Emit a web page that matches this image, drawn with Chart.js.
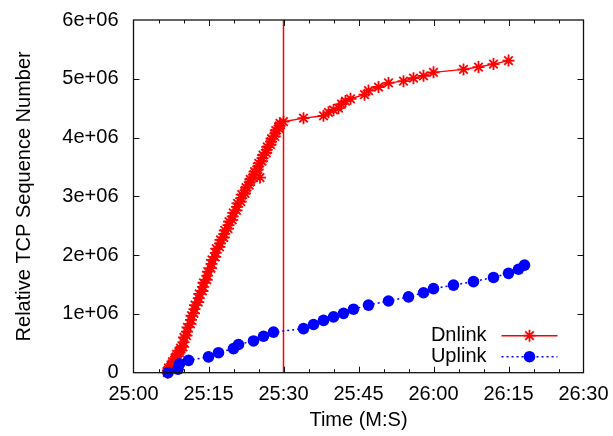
<!DOCTYPE html>
<html>
<head>
<meta charset="utf-8">
<script src="https://cdn.jsdelivr.net/npm/chart.js@4.4.1/dist/chart.umd.min.js"></script>
<style>
html,body{margin:0;padding:0;background:#fff;}
#c{display:block;}
</style>
</head>
<body>
<canvas id="c" width="613" height="436"></canvas>
<script>
// Time in seconds after 25:00, values in millions
const dnTime = [
  6.8,6.9,7.0, 7.6,7.7,7.8, 8.4,8.5,8.6, 9.2,9.3,9.4,
  9.9,10.0,10.1, 10.6,10.7,10.8, 11.4,11.5,11.6,
  12.1,12.2,12.3, 12.95,13.05,13.15, 13.8,13.9,14.0, 14.65,14.75,14.85,
  15.5,15.6,15.7, 16.35,16.45,16.55,
  17.2,17.3,17.4, 18.05,18.15,18.25, 18.9,19.0,19.1, 19.75,19.85,19.95,
  20.6,20.7,20.8, 21.45,21.55,21.65,
  22.3,22.4,22.5, 23.15,23.25,23.35, 24.0,24.1,24.2, 24.85,24.95,25.05, 25.3,
  25.7,25.8,25.9, 26.55,26.65,26.75, 27.4,27.5,27.6, 28.25,28.35,28.45,
  29.1,29.2,29.3, 30.0,
  34,38,39,40,41,41.6,42.4,43.4,46.2,47,49,51,54,56,58,60,66,69,72,75];
const dnValue = [
  0.00,0.04,0.08, 0.11,0.15,0.19, 0.23,0.27,0.31, 0.34,0.38,0.42,
  0.44,0.52,0.60, 0.63,0.70,0.77, 0.83,0.90,0.97,
  1.01,1.08,1.15, 1.20,1.27,1.34, 1.39,1.46,1.53, 1.58,1.65,1.72,
  1.78,1.85,1.92, 1.97,2.04,2.11,
  2.14,2.20,2.26, 2.30,2.36,2.42, 2.45,2.51,2.57, 2.60,2.66,2.72,
  2.76,2.82,2.88, 2.91,2.97,3.03,
  3.05,3.10,3.15, 3.19,3.24,3.29, 3.32,3.37,3.42, 3.46,3.51,3.56, 3.32,
  3.60,3.65,3.70, 3.74,3.79,3.84, 3.88,3.93,3.98, 4.02,4.07,4.12,
  4.16,4.20,4.24, 4.27,
  4.33,4.37,4.43,4.47,4.50,4.57,4.62,4.66,4.73,4.80,4.86,4.93,4.96,5.01,5.05,5.11,5.16,5.20,5.25,5.31];
const upTime = [6.9,8.9,9.2,11,15,17,20,21,24,26,28,34,36,38,40,42,44,47,51,55,58,60,64,68,72,75,77,78.2];
const upValue = [0,0.06,0.15,0.21,0.27,0.34,0.41,0.48,0.54,0.62,0.69,0.75,0.82,0.89,0.95,1.01,1.08,1.15,1.22,1.29,1.36,1.43,1.49,1.55,1.62,1.69,1.76,1.83];
const markerTime = [30, 30];
const markerValue = [0, 6];
const xTicks = [0,15,30,45,60,75,90];
const xTickLabels = ['25:00','25:15','25:30','25:45','26:00','26:15','26:30'];
const yTickLabels = ['0','1e+06','2e+06','3e+06','4e+06','5e+06','6e+06'];
const seriesNames = ['Dnlink','Uplink'];

const M = 1e6;
const toPts = (t, v) => t.map((x, i) => ({x: x, y: v[i] * M}));

const FONT = '"Liberation Sans", Arial, Helvetica, sans-serif';

const frameTicks = {
  id: 'frameTicks',
  afterDraw(chart) {
    const {ctx, chartArea: a, scales: {x, y}} = chart;
    ctx.save();
    ctx.strokeStyle = '#111';
    ctx.lineWidth = 1.3;
    ctx.strokeRect(a.left, a.top, a.right - a.left, a.bottom - a.top);
    ctx.lineWidth = 1;
    ctx.beginPath();
    for (let s = 5; s < 90; s += 5) {
      const px = Math.round(x.getPixelForValue(s)) + 0.5;
      const len = (s % 15 === 0) ? 6 : 3.5;
      ctx.moveTo(px, a.bottom); ctx.lineTo(px, a.bottom - len);
      ctx.moveTo(px, a.top); ctx.lineTo(px, a.top + len);
    }
    for (let k = 1; k < 6; k++) {
      const py = Math.round(y.getPixelForValue(k * M)) + 0.5;
      ctx.moveTo(a.left, py); ctx.lineTo(a.left + 6, py);
      ctx.moveTo(a.right, py); ctx.lineTo(a.right - 6, py);
    }
    ctx.stroke();

    // legend
    ctx.font = '20px ' + FONT;
    ctx.fillStyle = '#000';
    ctx.textAlign = 'right';
    ctx.textBaseline = 'middle';
    const lx0 = a.right - 82, lx1 = a.right - 26, tx = a.right - 97;
    const ly1 = a.bottom - 37, ly2 = a.bottom - 16;
    ctx.fillText(seriesNames[0], tx, ly1);
    ctx.fillText(seriesNames[1], tx, ly2);
    // Dnlink sample
    ctx.strokeStyle = '#ff0000';
    ctx.lineWidth = 1.4;
    ctx.beginPath(); ctx.moveTo(lx0, ly1); ctx.lineTo(lx1, ly1); ctx.stroke();
    const cx = (lx0 + lx1) / 2, r = 6;
    ctx.lineWidth = 1.8;
    ctx.beginPath();
    ctx.moveTo(cx - r, ly1); ctx.lineTo(cx + r, ly1);
    ctx.moveTo(cx, ly1 - r); ctx.lineTo(cx, ly1 + r);
    const d = r * 0.7071;
    ctx.moveTo(cx - d, ly1 - d); ctx.lineTo(cx + d, ly1 + d);
    ctx.moveTo(cx - d, ly1 + d); ctx.lineTo(cx + d, ly1 - d);
    ctx.stroke();
    // Uplink sample
    ctx.strokeStyle = '#0000ff';
    ctx.lineWidth = 1.5;
    ctx.setLineDash([2, 3]);
    ctx.beginPath(); ctx.moveTo(lx0, ly2); ctx.lineTo(lx1, ly2); ctx.stroke();
    ctx.setLineDash([]);
    ctx.fillStyle = '#0000ff';
    ctx.beginPath(); ctx.arc(cx, ly2, 5.8, 0, Math.PI * 2); ctx.fill();
    ctx.restore();
  }
};

new Chart(document.getElementById('c'), {
  type: 'scatter',
  data: {
    datasets: [
      {label: seriesNames[0], data: toPts(dnTime, dnValue), showLine: true,
       borderColor: '#ff0000', backgroundColor: '#ff0000', borderWidth: 1.4,
       pointStyle: 'star', pointRadius: 6, pointBorderWidth: 1.8, pointBorderColor: '#ff0000',
       clip: false, order: 2},
      {label: seriesNames[1], data: toPts(upTime, upValue), showLine: true,
       borderColor: '#0000ff', backgroundColor: '#0000ff', borderWidth: 1.5, borderDash: [2, 3],
       pointStyle: 'circle', pointRadius: 5.8, pointBorderWidth: 0,
       clip: false, order: 1},
      {label: 'marker', data: toPts(markerTime, markerValue), showLine: true,
       borderColor: '#ff0000', backgroundColor: '#ff0000', borderWidth: 1.5, pointRadius: 0, order: 3}
    ]
  },
  options: {
    responsive: false,
    devicePixelRatio: 1,
    animation: false,
    events: [],
    layout: {padding: 0},
    plugins: {legend: {display: false}, tooltip: {enabled: false}},
    scales: {
      x: {
        type: 'linear', min: 0, max: 90,
        afterBuildTicks(s) { s.ticks = xTicks.map(v => ({value: v})); },
        afterFit(s) { s.height = 63.3; s.paddingLeft = 0; s.paddingRight = 29.5; },
        ticks: {
          autoSkip: false, maxRotation: 0, padding: 10, color: '#000',
          font: {family: FONT, size: 20},
          callback: (v) => xTickLabels[xTicks.indexOf(v)]
        },
        grid: {display: false, drawTicks: false},
        border: {display: false},
        title: {display: true, text: 'Time (M:S)', color: '#000',
                font: {family: FONT, size: 20}, padding: {top: 0, bottom: 4}}
      },
      y: {
        type: 'linear', min: 0, max: 6 * M,
        afterBuildTicks(s) { s.ticks = yTickLabels.map((_, i) => ({value: i * M})); },
        afterFit(s) { s.width = 133.5; s.paddingTop = 20; s.paddingBottom = 0; },
        ticks: {
          padding: 15, color: '#000',
          font: {family: FONT, size: 20},
          callback: (v) => yTickLabels[Math.round(v / M)]
        },
        grid: {display: false, drawTicks: false},
        border: {display: false},
        title: {display: true, text: 'Relative TCP Sequence Number', color: '#000',
                font: {family: FONT, size: 20}, padding: {top: 12, bottom: 0}}
      }
    }
  },
  plugins: [frameTicks]
});
</script>
</body>
</html>
